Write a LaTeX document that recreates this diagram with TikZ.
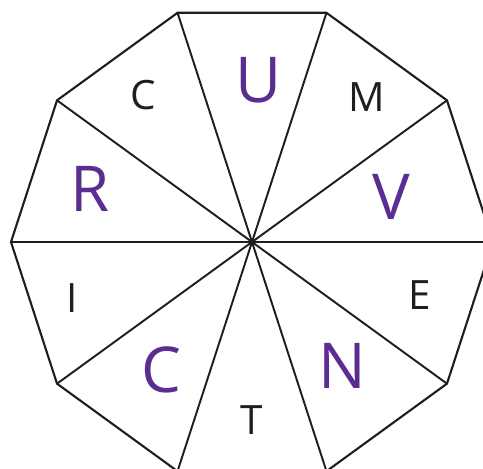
\documentclass[tikz,border=0pt]{standalone}
\usepackage{fontspec}
\setmainfont{Open Sans}
\usepackage{xcolor}
\usetikzlibrary{calc}
\definecolor{ink}{RGB}{30,30,30}
\definecolor{pen}{RGB}{92,45,145}
\tikzset{
  edge/.style={line width=1.2pt,draw=ink,line join=miter},
  spoke/.style={line width=1.1pt,draw=ink},
  typed/.style={inner sep=0pt,text=ink,font=\fontsize{23}{23}\selectfont},
  hand/.style={inner sep=0pt,text=pen,font=\fontsize{36}{36}\selectfont}
}

\begin{document}
\begin{tikzpicture}[x=0.02cm,y=0.02cm]
  \useasboundingbox (0,0) rectangle (483,468);
  \clip (0,0) rectangle (483,468);
  \coordinate (O) at (252,226);
  \foreach \k in {0,...,9}
    \coordinate (P\k) at ($(O)+(36*\k:241)$);

  % rim of the decagon
  \draw[edge] (P0)--(P1)--(P2)--(P3)--(P4)--(P5)--(P6)--(P7)--(P8)--(P9)--cycle;
  % spokes from the centre
  \foreach \k in {0,...,9}
    \draw[spoke] (O)--(P\k);

  \node[typed] (c1) at (143,373) {C};
  \node[hand]  (u)  at (259,388) {U};
  \node[typed] (m)  at (367,371) {M};
  \node[hand]  (r)  at (90,279)  {R};
  \node[hand]  (v)  at (391,271) {V};
  \node[typed] (i)  at (72,170)  {I};
  \node[typed] (e)  at (420,173) {E};
  \node[hand]  (c2) at (161,98)  {C};
  \node[typed] (t)  at (252,48)  {T};
  \node[hand]  (n)  at (342,102) {N};
\end{tikzpicture}
\end{document}
